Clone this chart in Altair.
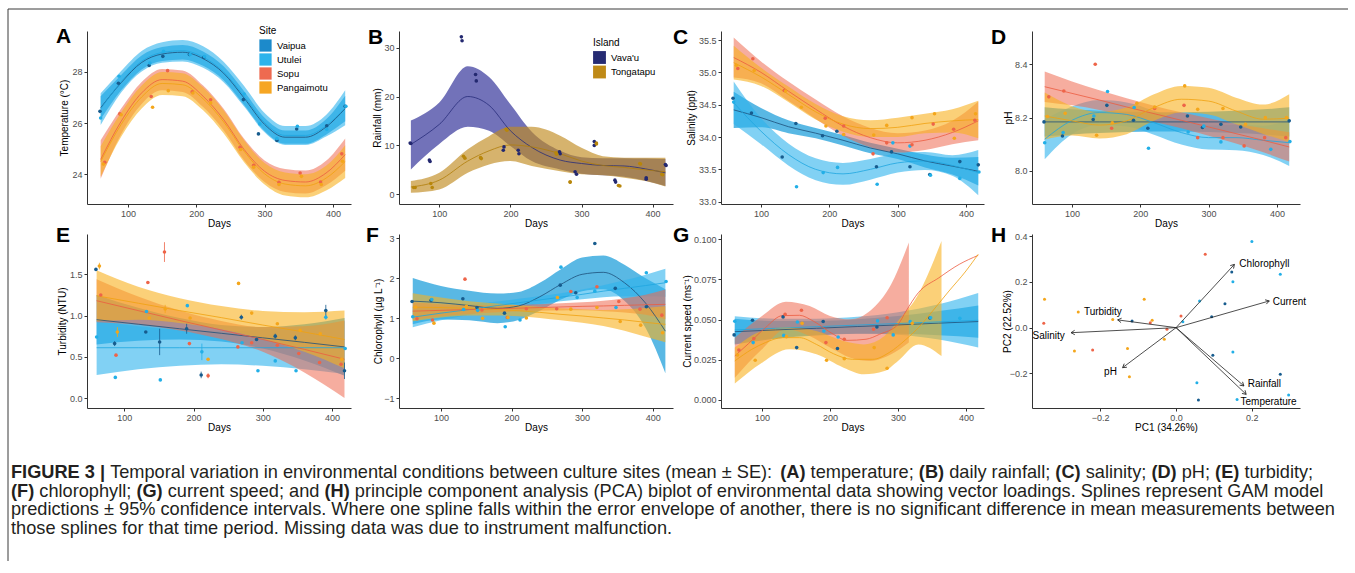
import math
import pandas as pd
import altair as alt

FONT = "Liberation Sans"

# ---------------- sampling days per site ----------------
VAIPUA_DAYS = [59, 86, 131, 151, 190, 211, 269, 291, 318, 347, 391, 418]
UTULEI_DAYS = [60, 87, 132, 152, 191, 212, 270, 293, 318, 348, 391, 419]
SOPU_DAYS = [66, 88, 134, 158, 194, 221, 264, 284, 321, 352, 382, 413]
PANGO_DAYS = [64, 90, 136, 159, 195, 221, 265, 284, 321, 354, 383, 414]

SITES = ["Vaipua", "Utulei", "Sopu", "Pangaimotu"]
ISLANDS = ["Vava'u", "Tongatapu"]

# ---------------- A: temperature ----------------
TEMP_VAIPUA = [26.46, 27.56, 28.25, 28.61, 28.68, 28.57, 26.92, 25.58, 25.32, 25.77, 25.90, 26.66]
TEMP_UTULEI = [26.2, 27.83, 28.35, 28.81, 28.68, 28.6, 27.14, 25.97, 25.4, 25.88, 25.75, 26.66]
TEMP_SOPU = [24.47, 26.36, 27.04, 28.05, 27.22, 26.91, 25.06, 24.35, 23.69, 24.05, 23.70, 24.80]
TEMP_PANGO = [24.4, 26.33, 26.62, 27.27, 27.18, 26.79, 24.97, 24.28, 23.6, 23.92, 23.6, 24.51]
TEMP_KNOTS = [60, 90, 120, 150, 180, 210, 240, 270, 300, 330, 360, 390, 418]
TEMP_FIT_VAIPUA = [26.6, 27.58, 28.37, 28.7, 28.77, 28.52, 27.95, 26.98, 25.95, 25.45, 25.45, 25.85, 26.57]
TEMP_SE_VAIPUA = [0.45, 0.3, 0.27, 0.27, 0.28, 0.28, 0.27, 0.27, 0.26, 0.26, 0.26, 0.3, 0.5]
TEMP_FIT_UTULEI = [26.55, 27.62, 28.42, 28.76, 28.83, 28.58, 28.0, 27.05, 26.02, 25.52, 25.52, 25.9, 26.6]
TEMP_SE_UTULEI = [0.62, 0.42, 0.4, 0.4, 0.42, 0.42, 0.4, 0.4, 0.38, 0.37, 0.37, 0.42, 0.68]
TEMP_FIT_SOPU = [24.58, 26.07, 27.18, 27.7, 27.64, 27.05, 26.14, 24.97, 24.12, 23.76, 23.7, 24.05, 24.77]
TEMP_SE_SOPU = [0.75, 0.5, 0.43, 0.42, 0.42, 0.42, 0.42, 0.42, 0.42, 0.45, 0.45, 0.48, 0.63]
TEMP_FIT_PANGO = [24.5, 25.95, 27.02, 27.55, 27.5, 26.95, 26.05, 24.9, 24.02, 23.62, 23.55, 23.85, 24.5]
TEMP_SE_PANGO = [0.6, 0.48, 0.45, 0.45, 0.45, 0.45, 0.45, 0.43, 0.42, 0.45, 0.45, 0.48, 0.64]

# ---------------- B: rainfall ----------------
RAIN_VAIPUA = [10.5, 7.0, 32.2, 24.5, 9.0, 9.0, 8.7, 4.6, 10.8, 2.9, 3.4, 6.1]
RAIN_UTULEI = [10.4, 6.7, 31.4, 23.2, 9.7, 8.3, 8.3, 4.1, 10.0, 2.5, 3.1, 5.9]
RAIN_SOPU = [1.4, 2.2, 7.8, 7.5, 13.3, None, 8.5, 2.5, 10.5, 1.8, 6.3, 4.1]
RAIN_PANGO = [1.4, 1.4, 7.4, 7.3, 13.1, None, 8.2, 2.5, 10.3, 1.7, 6.2, 4.0]
RAIN_KNOTS = [60, 100, 140, 170, 200, 230, 270, 300, 330, 360, 390, 418]
RAIN_FIT_VAVAU = [10.2, 14.3, 20.0, 18.2, 13.0, 9.6, 7.0, 6.3, 5.9, 5.8, 5.2, 4.4]
RAIN_LO_VAVAU = [5.1, 10.3, 13.8, 13.0, 9.9, 6.8, 5.1, 4.2, 3.9, 3.6, 2.8, 1.7]
RAIN_HI_VAVAU = [15.1, 18.8, 26.2, 24.0, 18.4, 12.8, 8.9, 7.6, 7.4, 7.4, 7.3, 7.2]
RAIN_FIT_TONGA = [1.5, 2.9, 6.8, 8.9, 10.1, 9.7, 8.3, 6.8, 5.9, 5.5, 5.0, 4.6]
RAIN_LO_TONGA = [0.3, 1.0, 4.4, 6.1, 6.8, 5.8, 4.7, 4.1, 3.9, 3.4, 2.7, 1.6]
RAIN_HI_TONGA = [2.7, 4.4, 9.2, 11.9, 13.8, 13.8, 12.0, 9.5, 7.8, 7.5, 7.5, 7.5]

# ---------------- C: salinity ----------------
SAL_VAIPUA = [34.6, 34.37, 33.69, 34.21, 34.02, 34.09, 33.54, 33.77, 33.54, 33.42, 33.62, 33.57]
SAL_UTULEI = [34.54, None, None, 33.23, 33.45, 33.53, 33.27, 33.91, 33.86, 33.41, 33.36, 33.46]
SAL_SOPU = [35.06, 35.21, 34.72, None, 34.29, 34.17, 33.74, 33.91, 33.88, 34.2, 34.12, 34.26]
SAL_PANGO = [35.11, 35.03, 34.71, 34.46, 34.17, 34.04, 34.03, 34.18, 34.3, 34.36, 33.98, 34.36]
SAL_KNOTS = [60, 100, 140, 180, 220, 260, 300, 340, 380, 418]
SAL_FIT_VAIPUA = [34.42, 34.30, 34.16, 34.06, 33.95, 33.83, 33.74, 33.63, 33.55, 33.47]
SAL_SE_VAIPUA = [0.28, 0.15, 0.1, 0.08, 0.08, 0.08, 0.08, 0.1, 0.13, 0.22]
SAL_FIT_UTULEI = [34.53, 34.09, 33.73, 33.5, 33.43, 33.5, 33.6, 33.63, 33.56, 33.45]
SAL_SE_UTULEI = [0.33, 0.2, 0.17, 0.17, 0.17, 0.16, 0.15, 0.14, 0.16, 0.35]
SAL_FIT_SOPU = [35.23, 35.0, 34.71, 34.43, 34.17, 33.99, 33.91, 33.95, 34.07, 34.25]
SAL_SE_SOPU = [0.31, 0.17, 0.15, 0.15, 0.15, 0.15, 0.15, 0.15, 0.18, 0.3]
SAL_FIT_PANGO = [35.15, 34.93, 34.66, 34.39, 34.2, 34.13, 34.15, 34.21, 34.25, 34.27]
SAL_SE_PANGO = [0.26, 0.14, 0.12, 0.12, 0.12, 0.13, 0.15, 0.15, 0.18, 0.29]

# ---------------- D: pH ----------------
PH_VAIPUA = [8.184, 8.131, 8.193, 8.246, 8.19, 8.16, 8.206, 8.163, 8.175, 8.165, None, 8.188]
PH_UTULEI = [8.106, 8.144, 8.206, 8.298, 8.238, 8.085, 8.146, 8.168, 8.109, None, 8.081, 8.11]
PH_SOPU = [8.278, 8.3, 8.4, 8.16, None, 8.234, 8.246, 8.125, 8.125, 8.094, 8.125, 8.125]
PH_PANGO = [8.204, 8.216, 8.134, 8.181, 8.254, 8.24, 8.319, 8.231, 8.234, 8.175, 8.2, 8.2]
PH_KNOTS = [60, 100, 140, 180, 220, 260, 300, 340, 380, 418]
PH_FIT_VAIPUA = [8.184, 8.184, 8.184, 8.184, 8.184, 8.184, 8.184, 8.184, 8.184, 8.184]
PH_SE_VAIPUA = [0.055, 0.047, 0.042, 0.038, 0.036, 0.036, 0.038, 0.042, 0.047, 0.055]
PH_FIT_UTULEI = [8.119, 8.19, 8.219, 8.212, 8.181, 8.144, 8.125, 8.125, 8.115, 8.106]
PH_SE_UTULEI = [0.075, 0.052, 0.047, 0.045, 0.045, 0.045, 0.045, 0.047, 0.055, 0.087]
PH_FIT_SOPU = [8.316, 8.291, 8.266, 8.24, 8.215, 8.19, 8.165, 8.14, 8.115, 8.09]
PH_SE_SOPU = [0.057, 0.045, 0.037, 0.033, 0.03, 0.03, 0.033, 0.037, 0.045, 0.055]
PH_FIT_PANGO = [8.206, 8.188, 8.172, 8.188, 8.238, 8.269, 8.262, 8.225, 8.194, 8.198]
PH_SE_PANGO = [0.088, 0.055, 0.05, 0.05, 0.05, 0.05, 0.05, 0.05, 0.055, 0.09]

# ---------------- E: turbidity ----------------
TURB_VAIPUA = [1.56, 0.66, 0.8, 0.68, 0.84, 0.28, 0.98, 0.71, 0.75, 0.73, 1.06, 0.33]
TURB_ERR_VAIPUA = [0, 0.03, 0, 0.16, 0.06, 0.04, 0.03, 0, 0.03, 0.03, 0.07, 0.1]
TURB_UTULEI = [0.74, 0.25, 1.05, 0.22, 1.12, 0.56, 0.67, 0.33, 0.45, 0.33, 0.98, 0.6]
TURB_ERR_UTULEI = [0, 0, 0, 0, 0, 0.1, 0, 0, 0, 0, 0.03, 0]
TURB_SOPU = [1.25, 0.52, 1.40, 1.77, 0.66, 0.27, 0.62, 0.67, 0.64, 0.54, 0.43, 0.41]
TURB_ERR_SOPU = [0, 0, 0, 0.12, 0, 0.03, 0, 0, 0, 0, 0, 0]
TURB_PANGO = [1.6, 0.8, 0.97, 1.08, 0.97, 0.47, 1.39, 1.03, 0.9, 0.82, 0.78, 0.47]
TURB_ERR_PANGO = [0.04, 0.06, 0, 0.05, 0, 0, 0, 0, 0, 0, 0, 0]
TURB_KNOTS = [60, 120, 180, 240, 300, 360, 418]
TURB_FIT_VAIPUA = [0.95, 0.895, 0.84, 0.785, 0.73, 0.675, 0.62]
TURB_SE_VAIPUA = [0.3, 0.2, 0.13, 0.1, 0.13, 0.22, 0.35]
TURB_FIT_UTULEI = [0.61, 0.61, 0.61, 0.61, 0.61, 0.61, 0.61]
TURB_SE_UTULEI = [0.33, 0.26, 0.22, 0.2, 0.22, 0.26, 0.32]
TURB_FIT_SOPU = [1.18, 1.06, 0.94, 0.825, 0.71, 0.59, 0.47]
TURB_SE_SOPU = [0.26, 0.17, 0.12, 0.11, 0.15, 0.28, 0.47]
TURB_FIT_PANGO = [1.24, 1.15, 1.06, 0.975, 0.885, 0.8, 0.71]
TURB_SE_PANGO = [0.31, 0.2, 0.15, 0.14, 0.17, 0.24, 0.35]

# ---------------- F: chlorophyll ----------------
CHL_VAIPUA = [1.42, 1.45, 1.49, 1.27, 1.13, None, 1.83, 1.64, 2.87, 1.75, 1.29, None]
CHL_UTULEI = [1.04, 1.47, 1.22, 1.2, 0.79, 0.96, 2.28, 1.52, 1.68, 1.27, 2.14, 1.92]
CHL_SOPU = [0.99, 0.96, 1.98, 1.21, 1.02, 1.24, 1.24, 1.67, 1.79, 1.42, 1.23, 1.08]
CHL_PANGO = [1.28, 0.88, 1.3, 1.0, 1.02, 1.01, 1.52, 1.23, 1.27, 0.92, 0.83, 0.64]
CHL_KNOTS = [60, 100, 140, 180, 210, 240, 270, 300, 330, 360, 390, 418]
CHL_FIT_VAIPUA = [1.43, 1.39, 1.32, 1.25, 1.31, 1.54, 1.85, 2.1, 2.15, 1.89, 1.38, 0.68]
CHL_SE_VAIPUA = [0.58, 0.42, 0.37, 0.37, 0.35, 0.35, 0.38, 0.42, 0.42, 0.45, 0.62, 1.05]
CHL_FIT_UTULEI = [1.03, 1.13, 1.22, 1.32, 1.39, 1.46, 1.53, 1.6, 1.68, 1.75, 1.82, 1.89]
CHL_SE_UTULEI = [0.25, 0.18, 0.13, 0.1, 0.1, 0.1, 0.1, 0.12, 0.15, 0.2, 0.27, 0.35]
CHL_FIT_SOPU = [1.18, 1.2, 1.22, 1.24, 1.255, 1.27, 1.285, 1.3, 1.31, 1.325, 1.34, 1.35]
CHL_SE_SOPU = [0.22, 0.15, 0.11, 0.09, 0.08, 0.08, 0.09, 0.1, 0.13, 0.18, 0.25, 0.37]
CHL_FIT_PANGO = [1.28, 1.27, 1.25, 1.22, 1.19, 1.15, 1.1, 1.06, 1.01, 0.96, 0.9, 0.85]
CHL_SE_PANGO = [0.35, 0.25, 0.18, 0.15, 0.14, 0.14, 0.15, 0.17, 0.2, 0.27, 0.36, 0.45]

# ---------------- G: current speed ----------------
CUR_VAIPUA = [0.0405, 0.0496, 0.0517, 0.0326, 0.0488, 0.032, 0.0454, None, None, 0.051, None, None]
CUR_UTULEI = [0.049, 0.0357, 0.0402, 0.0485, 0.0429, 0.0392, 0.0492, 0.0405, 0.0488, 0.0512, 0.0508, None]
CUR_SOPU = [0.0311, 0.0382, 0.0533, 0.0558, 0.0357, 0.0378, 0.044, 0.0512, None, None, None, None]
CUR_PANGO = [0.028, 0.0247, 0.0394, 0.0477, 0.0247, 0.0257, 0.0326, 0.0197, 0.0477, None, None, None]
CUR_KNOTS = [60, 120, 180, 240, 300, 360, 418]
CUR_FIT_VAIPUA = [0.0425, 0.0436, 0.0446, 0.0457, 0.0467, 0.0478, 0.0488]
CUR_SE_VAIPUA = [0.008, 0.0055, 0.0045, 0.0045, 0.0055, 0.0075, 0.01]
CUR_FIT_UTULEI = [0.0436, 0.0446, 0.0456, 0.0466, 0.0476, 0.0486, 0.0496]
CUR_SE_UTULEI = [0.0085, 0.006, 0.005, 0.0052, 0.007, 0.011, 0.017]
CUR_SOPU_FIT_DAYS = [60, 80, 105, 130, 155, 175, 205, 225, 253, 273, 300, 312, 330, 360, 390, 418]
CUR_FIT_SOPU = [0.0274, 0.035, 0.045, 0.0525, 0.0527, 0.0492, 0.0409, 0.0371, 0.0378, 0.0409, 0.047,
                0.0554, 0.0668, 0.076, 0.0844, 0.09]
CUR_SOPU_BAND_DAYS = [60, 100, 135, 170, 200, 230, 260, 290, 316]
CUR_LO_SOPU = [0.0139, 0.0315, 0.044, 0.0398, 0.0326, 0.0263, 0.0243, 0.0284, 0.0357]
CUR_HI_SOPU = [0.0388, 0.0523, 0.0612, 0.0585, 0.0523, 0.0502, 0.0558, 0.072, 0.098]
CUR_PANGO_FIT_DAYS = [60, 85, 105, 130, 155, 180, 205, 233, 263, 287, 312, 331, 351, 375, 400, 418]
CUR_FIT_PANGO = [0.0243, 0.0315, 0.0357, 0.0388, 0.0388, 0.0346, 0.0288, 0.0253, 0.0253, 0.0295, 0.0378,
                 0.0454, 0.0554, 0.0678, 0.0803, 0.0907]
CUR_PANGO_BAND_DAYS = [60, 100, 140, 180, 220, 250, 280, 300, 330, 364]
CUR_LO_PANGO = [0.0102, 0.0232, 0.0315, 0.0284, 0.0201, 0.016, 0.018, 0.0243, 0.0346, 0.0274]
CUR_HI_PANGO = [0.0326, 0.0429, 0.0454, 0.0429, 0.0367, 0.0346, 0.0398, 0.0492, 0.0658, 0.099]

# ---------------- H: PCA ----------------
PCA_VAIPUA_X = [-0.116, 0.094, 0.129, 0.147, 0.097, 0.275, 0.059]
PCA_VAIPUA_Y = [0.029, 0.048, 0.105, 0.244, -0.121, -0.204, -0.317]
PCA_UTULEI_X = [0.018, 0.062, 0.15, 0.2, 0.275, 0.15, 0.055, 0.161, 0.297]
PCA_UTULEI_Y = [0.026, 0.117, 0.201, 0.377, 0.234, -0.107, -0.241, -0.314, -0.295]
PCA_SOPU_X = [-0.349, -0.22, -0.068, -0.024, 0.013, 0.077]
PCA_SOPU_Y = [0.019, -0.098, 0.022, -0.007, 0.051, 0.321]
PCA_PANGO_X = [-0.347, -0.258, -0.167, -0.084, -0.063, -0.268, -0.128, -0.031, -0.123]
PCA_PANGO_Y = [0.124, 0.069, 0.036, 0.124, 0.032, -0.102, -0.091, -0.051, -0.215]
LOAD_NAMES = ["Chlorophyll", "Current", "Turbidity", "Salinity", "pH", "Rainfall", "Temperature"]
LOAD_X = [0.154, 0.246, -0.154, -0.277, -0.141, 0.179, 0.185]
LOAD_Y = [0.277, 0.117, 0.034, -0.022, -0.175, -0.255, -0.292]
LABEL_X = [0.167, 0.255, -0.193, -0.336, -0.173, 0.189, 0.17]
LABEL_Y = [0.28, 0.112, 0.069, -0.036, -0.193, -0.245, -0.326]
LABEL_ALIGN = ["left", "left", "center", "center", "center", "left", "left"]

# caption: segments wrapped in ** are bold
CAPTION_LINES = [
    "**FIGURE 3 |** Temporal variation in environmental conditions between culture sites (mean \u00b1 SE): "
    "**(A)** temperature; **(B)** daily rainfall; **(C)** salinity; **(D)** pH; **(E)** turbidity;",
    "**(F)** chlorophyll; **(G)** current speed; and **(H)** principle component analysis (PCA) biplot of "
    "environmental data showing vector loadings. Splines represent GAM model",
    "predictions \u00b1 95% confidence intervals. Where one spline falls within the error envelope of another, "
    "there is no significant difference in mean measurements between",
    "those splines for that time period. Missing data was due to instrument malfunction.",
]

# advance widths (1/1000 em) of Liberation Sans (Arial metrics), used only to place caption segments
REG_W = {" ": 278, "(": 333, ")": 333, ",": 278, ".": 278, ":": 278, ";": 278, "%": 889, "\u00b1": 584,
         "|": 260, "-": 333,
         "A": 667, "B": 667, "C": 722, "D": 722, "E": 667, "F": 611, "G": 778, "H": 722, "I": 278, "M": 833,
         "N": 722, "P": 667, "S": 667, "T": 611, "W": 944,
         "a": 556, "b": 556, "c": 500, "d": 556, "e": 556, "f": 278, "g": 556, "h": 556, "i": 222, "j": 222,
         "k": 500, "l": 222, "m": 833, "n": 556, "o": 556, "p": 556, "q": 556, "r": 333, "s": 500, "t": 278,
         "u": 556, "v": 500, "w": 722, "x": 500, "y": 500, "z": 500}
BOLD_W = {" ": 278, "(": 333, ")": 333, "|": 280, "3": 556, "A": 722, "B": 722, "C": 722, "D": 722,
          "E": 667, "F": 611, "G": 778, "H": 722, "I": 278, "R": 722, "U": 722}

# ---------------- styles ----------------
PT_COL = {"Vaipua": "#175C8E", "Utulei": "#22AFE7", "Sopu": "#EE6448", "Pangaimotu": "#F4A61B"}
LN_COL = {"Vaipua": "#1D4F7A", "Utulei": "#1EA6E0", "Sopu": "#EC5C40", "Pangaimotu": "#F0A10F"}
BD_COL = {"Vaipua": "#129AD9", "Utulei": "#2DB3EC", "Sopu": "#EE6A50", "Pangaimotu": "#F9B11E"}
BD_OP = {"Vaipua": 0.7, "Utulei": 0.6, "Sopu": 0.55, "Pangaimotu": 0.6}
LEGEND_A = ["#1C8ACB", "#2DB3EC", "#EE6A50", "#F6A623"]
IS_PT = {"Vava'u": "#232870", "Tongatapu": "#B8860B"}
IS_LN = {"Vava'u": "#272C7A", "Tongatapu": "#B07D0A"}
IS_BD = {"Vava'u": "#3B3B9E", "Tongatapu": "#C08A1E"}
IS_OP = {"Vava'u": 0.72, "Tongatapu": 0.65}
LEGEND_B = ["#262B73", "#BF8A17"]

COL_W = [264, 274, 263, 268]
ROW_H = [173, 174]


def pts_df(days, vals, col, errs=None):
    rows = []
    for i, (d, v) in enumerate(zip(days, vals)):
        if v is None:
            continue
        e = errs[i] if errs else 0
        rows.append({"day": d, "val": v, "col": col, "lo": v - e, "hi": v + e, "err": e})
    return pd.DataFrame(rows)


def band_se(days, fit, se, col):
    return pd.DataFrame({"day": days, "lo": [f - s for f, s in zip(fit, se)],
                         "hi": [f + s for f, s in zip(fit, se)], "col": col})


def band_lohi(days, lo, hi, col):
    return pd.DataFrame({"day": days, "lo": lo, "hi": hi, "col": col})


def fit_df(days, fit, col):
    return pd.DataFrame({"day": days, "fit": fit, "col": col})


def site_series(site, days, vals, knots, fit, se, errs=None):
    return {"band": band_se(knots, fit, se, BD_COL[site]), "op": BD_OP[site],
            "fit": fit_df(knots, fit, LN_COL[site]), "pts": pts_df(days, vals, PT_COL[site], errs),
            "err": errs is not None}


def letter_layer(letter, ldx, ldy):
    return alt.Chart(pd.DataFrame({"t": [letter]})).mark_text(
        align="left", baseline="alphabetic", fontSize=21, fontWeight="bold", font=FONT, color="black"
    ).encode(text="t:N", x=alt.value(ldx), y=alt.value(ldy))


def panel(letter, ldx, ldy, w, h, xdom, ydom, yvals, ytitle, yext, ytpad, series,
          yfmt=None, legend=None, extra=None):
    xs = alt.Scale(domain=xdom, nice=False, zero=False)
    ys = alt.Scale(domain=ydom, nice=False, zero=False)
    xax = alt.Axis(values=[100, 200, 300, 400], title="Days")
    ykw = dict(values=yvals, title=ytitle, minExtent=yext, maxExtent=yext, titlePadding=ytpad)
    if yfmt:
        ykw["format"] = yfmt
    yax = alt.Axis(**ykw)

    def X(f):
        return alt.X(f"{f}:Q", scale=xs, axis=xax)

    def Y(f):
        return alt.Y(f"{f}:Q", scale=ys, axis=yax)

    layers = []
    for s in series:
        layers.append(alt.Chart(s["band"]).mark_area(interpolate="monotone", strokeWidth=0, fillOpacity=s["op"])
                      .encode(x=X("day"), y=Y("lo"), y2=alt.Y2("hi:Q"), color=alt.Color("col:N", scale=None)))
    for s in series:
        layers.append(alt.Chart(s["fit"]).mark_line(interpolate="monotone", strokeWidth=0.8)
                      .encode(x=X("day"), y=Y("fit"), color=alt.Color("col:N", scale=None)))
    for s in series:
        if s.get("err"):
            d = s["pts"][s["pts"]["err"] > 0]
            layers.append(alt.Chart(d).mark_rule(strokeWidth=0.8)
                          .encode(x=X("day"), y=Y("lo"), y2=alt.Y2("hi:Q"), color=alt.Color("col:N", scale=None)))
    for s in series:
        layers.append(alt.Chart(s["pts"]).mark_circle(size=13, opacity=1)
                      .encode(x=X("day"), y=Y("val"), color=alt.Color("col:N", scale=None)))
    if legend is not None:
        df, dom, rng, lg = legend
        layers.append(alt.Chart(df).mark_square(opacity=0)
                      .encode(x=X("day"), y=Y("val"),
                              fill=alt.Fill("grp:N", scale=alt.Scale(domain=dom, range=rng), legend=lg)))
    layers.append(letter_layer(letter, ldx, ldy))
    if extra:
        layers.extend(extra)
    return alt.layer(*layers).properties(width=w, height=h)


def legend_params(title, lx, ly, size, rowpad):
    return alt.Legend(title=title, orient="none", legendX=lx, legendY=ly, symbolType="square",
                      symbolSize=size, symbolOpacity=1, symbolStrokeWidth=0, titleFontSize=10,
                      labelFontSize=9.5, titlePadding=3, rowPadding=rowpad, labelOffset=5, padding=0,
                      titleFontWeight="normal", labelColor="black", titleColor="black")


# frame lines of the figure box (top and left edges), drawn from panel A's corner
FRAME = pd.DataFrame({"edge": ["frame"]})
frame_layers = [
    alt.Chart(FRAME).mark_rule(color="#3a3a3a", strokeWidth=1).encode(
        x=alt.value(-79), y=alt.value(-22), y2=alt.value(530)),
    alt.Chart(FRAME).mark_rule(color="#3a3a3a", strokeWidth=1).encode(
        x=alt.value(-79), x2=alt.value(1261), y=alt.value(-22)),
]

# ---------------- A ----------------
ser_A = [
    site_series("Vaipua", VAIPUA_DAYS, TEMP_VAIPUA, TEMP_KNOTS, TEMP_FIT_VAIPUA, TEMP_SE_VAIPUA),
    site_series("Utulei", UTULEI_DAYS, TEMP_UTULEI, TEMP_KNOTS, TEMP_FIT_UTULEI, TEMP_SE_UTULEI),
    site_series("Sopu", SOPU_DAYS, TEMP_SOPU, TEMP_KNOTS, TEMP_FIT_SOPU, TEMP_SE_SOPU),
    site_series("Pangaimotu", PANGO_DAYS, TEMP_PANGO, TEMP_KNOTS, TEMP_FIT_PANGO, TEMP_SE_PANGO),
]
leg_df_A = pd.DataFrame({"day": VAIPUA_DAYS[:4], "val": TEMP_VAIPUA[:4], "grp": SITES})
chart_A = panel("A", -31, 12, COL_W[0], ROW_H[0], [40, 426.5], [22.84, 29.6], [24, 26, 28],
                "Temperature (\u00b0C)", 16, 2, ser_A,
                legend=(leg_df_A, SITES, LEGEND_A, legend_params("Site", 172, -5, 150, 1)),
                extra=frame_layers)

# ---------------- B ----------------
ser_B = []
for isl, fit, lo, hi, srcs in [
    ("Vava'u", RAIN_FIT_VAVAU, RAIN_LO_VAVAU, RAIN_HI_VAVAU,
     [(VAIPUA_DAYS, RAIN_VAIPUA), (UTULEI_DAYS, RAIN_UTULEI)]),
    ("Tongatapu", RAIN_FIT_TONGA, RAIN_LO_TONGA, RAIN_HI_TONGA,
     [(SOPU_DAYS, RAIN_SOPU), (PANGO_DAYS, RAIN_PANGO)]),
]:
    p = pd.concat([pts_df(d, v, IS_PT[isl]) for d, v in srcs], ignore_index=True)
    ser_B.append({"band": band_lohi(RAIN_KNOTS, lo, hi, IS_BD[isl]), "op": IS_OP[isl],
                  "fit": fit_df(RAIN_KNOTS, fit, IS_LN[isl]), "pts": p, "err": False})
leg_df_B = pd.DataFrame({"day": [60, 65], "val": [10.5, 1.4], "grp": ISLANDS})
chart_B = panel("B", -31, 13, COL_W[1], ROW_H[0], [43.3, 428.7], [-1.98, 33.4], [0, 10, 20, 30],
                "Rainfall (mm)", 15, 2, ser_B,
                legend=(leg_df_B, ISLANDS, LEGEND_B, legend_params("Island", 194, 7, 165, 1.5)))

# ---------------- C ----------------
ser_C = [
    site_series("Vaipua", VAIPUA_DAYS, SAL_VAIPUA, SAL_KNOTS, SAL_FIT_VAIPUA, SAL_SE_VAIPUA),
    site_series("Utulei", UTULEI_DAYS, SAL_UTULEI, SAL_KNOTS, SAL_FIT_UTULEI, SAL_SE_UTULEI),
    site_series("Sopu", SOPU_DAYS, SAL_SOPU, SAL_KNOTS, SAL_FIT_SOPU, SAL_SE_SOPU),
    site_series("Pangaimotu", PANGO_DAYS, SAL_PANGO, SAL_KNOTS, SAL_FIT_PANGO, SAL_SE_PANGO),
]
chart_C = panel("C", -48, 13, COL_W[2], ROW_H[0], [41.4, 426.4], [32.964, 35.64],
                [33.0, 33.5, 34.0, 34.5, 35.0, 35.5], "Salinity (ppt)", 22, 3, ser_C, yfmt=".1f")

# ---------------- D ----------------
ser_D = [
    site_series("Vaipua", VAIPUA_DAYS, PH_VAIPUA, PH_KNOTS, PH_FIT_VAIPUA, PH_SE_VAIPUA),
    site_series("Utulei", UTULEI_DAYS, PH_UTULEI, PH_KNOTS, PH_FIT_UTULEI, PH_SE_UTULEI),
    site_series("Sopu", SOPU_DAYS, PH_SOPU, PH_KNOTS, PH_FIT_SOPU, PH_SE_SOPU),
    site_series("Pangaimotu", PANGO_DAYS, PH_PANGO, PH_KNOTS, PH_FIT_PANGO, PH_SE_PANGO),
]
chart_D = panel("D", -41, 13, COL_W[3], ROW_H[0], [41.4, 433.8], [7.876, 8.525], [8.0, 8.2, 8.4],
                "pH", 16, 3, ser_D, yfmt=".1f")

# ---------------- E (+ caption) ----------------
ser_E = [
    site_series("Vaipua", VAIPUA_DAYS, TURB_VAIPUA, TURB_KNOTS, TURB_FIT_VAIPUA, TURB_SE_VAIPUA, TURB_ERR_VAIPUA),
    site_series("Utulei", UTULEI_DAYS, TURB_UTULEI, TURB_KNOTS, TURB_FIT_UTULEI, TURB_SE_UTULEI, TURB_ERR_UTULEI),
    site_series("Sopu", SOPU_DAYS, TURB_SOPU, TURB_KNOTS, TURB_FIT_SOPU, TURB_SE_SOPU, TURB_ERR_SOPU),
    site_series("Pangaimotu", PANGO_DAYS, TURB_PANGO, TURB_KNOTS, TURB_FIT_PANGO, TURB_SE_PANGO, TURB_ERR_PANGO),
]
CAP_FS = 18.2
CAP_X = -76
CAP_Y0 = 239
CAP_LH = 18.7


def seg_width(s, bold):
    table = BOLD_W if bold else REG_W
    return sum(table.get(c, 556) for c in s) / 1000.0 * CAP_FS


caption_layers = []
for i, line in enumerate(CAPTION_LINES):
    cursor = CAP_X
    for j, part in enumerate(line.split("**")):
        bold = j % 2 == 1
        lead = len(part) - len(part.lstrip(" "))
        trail = len(part) - len(part.rstrip(" "))
        core = part.strip(" ")
        cursor += seg_width(" " * lead, bold)
        if core:
            caption_layers.append(
                alt.Chart(pd.DataFrame({"t": [core]})).mark_text(
                    align="left", baseline="middle", fontSize=CAP_FS, font=FONT, color="#231F20",
                    fontWeight="bold" if bold else "normal"
                ).encode(text="t:N", x=alt.value(round(cursor, 2)), y=alt.value(CAP_Y0 + i * CAP_LH))
            )
            cursor += seg_width(core, bold)
        cursor += seg_width(" " * trail, bold)

chart_E = panel("E", -31, 8, COL_W[0], ROW_H[1], [46.1, 427.4], [-0.121, 1.989], [0.0, 0.5, 1.0, 1.5],
                "Turbidity (NTU)", 17, 3, ser_E, yfmt=".1f", extra=caption_layers)

# ---------------- F ----------------
ser_F = [
    site_series("Vaipua", VAIPUA_DAYS, CHL_VAIPUA, CHL_KNOTS, CHL_FIT_VAIPUA, CHL_SE_VAIPUA),
    site_series("Utulei", UTULEI_DAYS, CHL_UTULEI, CHL_KNOTS, CHL_FIT_UTULEI, CHL_SE_UTULEI),
    site_series("Sopu", SOPU_DAYS, CHL_SOPU, CHL_KNOTS, CHL_FIT_SOPU, CHL_SE_SOPU),
    site_series("Pangaimotu", PANGO_DAYS, CHL_PANGO, CHL_KNOTS, CHL_FIT_PANGO, CHL_SE_PANGO),
]
chart_F = panel("F", -33, 8, COL_W[1], ROW_H[1], [40.5, 428.8], [-1.24, 3.108], [-1, 0, 1, 2, 3],
                "Chlorophyll (\u00b5g L\u207b\u00b9)", 12, 4, ser_F)

# ---------------- G ----------------
ser_G = [
    site_series("Vaipua", VAIPUA_DAYS, CUR_VAIPUA, CUR_KNOTS, CUR_FIT_VAIPUA, CUR_SE_VAIPUA),
    site_series("Utulei", UTULEI_DAYS, CUR_UTULEI, CUR_KNOTS, CUR_FIT_UTULEI, CUR_SE_UTULEI),
    {"band": band_lohi(CUR_SOPU_BAND_DAYS, CUR_LO_SOPU, CUR_HI_SOPU, BD_COL["Sopu"]), "op": BD_OP["Sopu"],
     "fit": fit_df(CUR_SOPU_FIT_DAYS, CUR_FIT_SOPU, LN_COL["Sopu"]),
     "pts": pts_df(SOPU_DAYS, CUR_SOPU, PT_COL["Sopu"]), "err": False},
    {"band": band_lohi(CUR_PANGO_BAND_DAYS, CUR_LO_PANGO, CUR_HI_PANGO, BD_COL["Pangaimotu"]),
     "op": BD_OP["Pangaimotu"],
     "fit": fit_df(CUR_PANGO_FIT_DAYS, CUR_FIT_PANGO, LN_COL["Pangaimotu"]),
     "pts": pts_df(PANGO_DAYS, CUR_PANGO, PT_COL["Pangaimotu"]), "err": False},
]
chart_G = panel("G", -48, 8, COL_W[2], ROW_H[1], [39.7, 426.5], [-0.005, 0.1033],
                [0.0, 0.025, 0.05, 0.075, 0.1], "Current speed (ms\u207b\u00b9)", 26, 3, ser_G, yfmt=".3f")

# ---------------- H ----------------
HXD = [-0.38, 0.327]
HYD = [-0.3516, 0.41]
hxs = alt.Scale(domain=HXD, nice=False, zero=False)
hys = alt.Scale(domain=HYD, nice=False, zero=False)
hxax = alt.Axis(values=[-0.2, 0.0, 0.2], format=".1f", title="PC1 (34.26%)")
hyax = alt.Axis(values=[-0.2, 0.0, 0.2, 0.4], format=".1f", title="PC2 (22.52%)",
                minExtent=17, maxExtent=17, titlePadding=3)


def HX(f):
    return alt.X(f"{f}:Q", scale=hxs, axis=hxax)


def HY(f):
    return alt.Y(f"{f}:Q", scale=hys, axis=hyax)


pca_rows = []
for site, xs_, ys_ in [("Vaipua", PCA_VAIPUA_X, PCA_VAIPUA_Y), ("Utulei", PCA_UTULEI_X, PCA_UTULEI_Y),
                       ("Sopu", PCA_SOPU_X, PCA_SOPU_Y), ("Pangaimotu", PCA_PANGO_X, PCA_PANGO_Y)]:
    for a, b in zip(xs_, ys_):
        pca_rows.append({"pc1": a, "pc2": b, "col": PT_COL[site]})
pca_df = pd.DataFrame(pca_rows)

sx = COL_W[3] / (HXD[1] - HXD[0])
sy = ROW_H[1] / (HYD[1] - HYD[0])
arrows = pd.DataFrame({
    "x0": [0.0] * len(LOAD_X), "y0": [0.0] * len(LOAD_X), "x": LOAD_X, "y": LOAD_Y,
    "ang": [math.degrees(math.atan2(-b * sy, a * sx)) % 360 for a, b in zip(LOAD_X, LOAD_Y)],
})
labels = pd.DataFrame({"lx": LABEL_X, "ly": LABEL_Y, "name": LOAD_NAMES, "al": LABEL_ALIGN})

h_layers = [
    alt.Chart(pca_df).mark_circle(size=9, opacity=1).encode(
        x=HX("pc1"), y=HY("pc2"), color=alt.Color("col:N", scale=None)),
    alt.Chart(arrows).mark_rule(strokeWidth=0.8, color="#222222").encode(
        x=HX("x0"), y=HY("y0"), x2=alt.X2("x:Q"), y2=alt.Y2("y:Q")),
    alt.Chart(arrows).mark_point(shape="M-1,-0.6L0,0L-1,0.6", filled=False, size=55, strokeWidth=0.8,
                                 color="#222222", opacity=1).encode(
        x=HX("x"), y=HY("y"), angle=alt.Angle("ang:Q", scale=None)),
]
for al in ["left", "center"]:
    h_layers.append(
        alt.Chart(labels[labels["al"] == al]).mark_text(align=al, baseline="middle", fontSize=10, font=FONT,
                                                       color="black").encode(
            x=HX("lx"), y=HY("ly"), text="name:N"))
h_layers.append(letter_layer("H", -41, 8))
chart_H = alt.layer(*h_layers).properties(width=COL_W[3], height=ROW_H[1])

# ---------------- assemble ----------------
chart = alt.concat(
    chart_A, chart_B, chart_C, chart_D, chart_E, chart_F, chart_G, chart_H,
    columns=4, spacing={"row": 30, "column": 48}, bounds="flush",
).resolve_scale(fill="independent").resolve_legend(fill="independent").properties(
    padding={"left": 7, "top": 8, "right": 5, "bottom": 5}
).configure(font=FONT, background="white").configure_view(stroke=None).configure_axis(
    domainColor="#333333", tickColor="#333333", labelColor="#4D4D4D", labelFontSize=9, titleFontSize=10,
    titleFontWeight="normal", titleColor="black", grid=False, tickSize=3, labelPadding=2,
    labelFont=FONT, titleFont=FONT, domainWidth=1, tickWidth=1,
).configure_axisX(titlePadding=0).configure_legend(labelFont=FONT, titleFont=FONT)

chart.save("out.html", embed_options={"renderer": "svg", "actions": False})
